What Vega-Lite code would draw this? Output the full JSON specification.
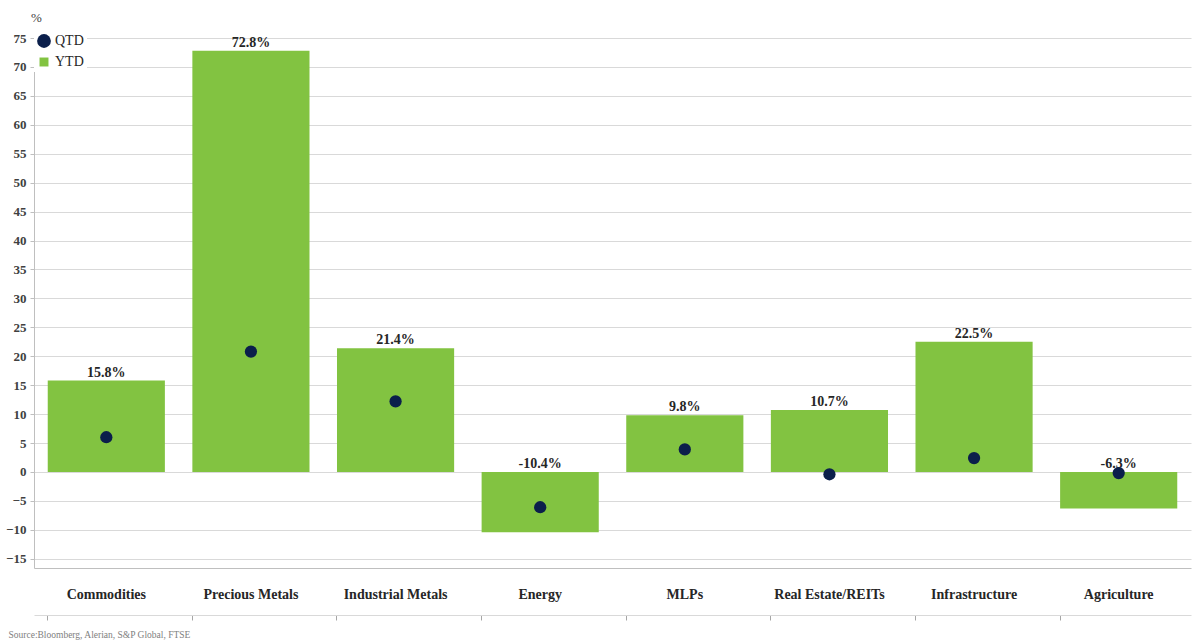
{
  "$schema": "https://vega.github.io/schema/vega-lite/v6.json",
  "width": 1157,
  "height": 530,
  "autosize": "none",
  "padding": {"left": 34, "top": 38, "right": 9, "bottom": 76},
  "background": "white",
  "config": {
    "view": {"stroke": null},
    "font": "Liberation Serif",
    "axisY": {
      "labelOverlap": false, "labelFlush": false,
      "titleAngle": 0, "titleX": 2, "titleY": -14, "titleAlign": "center",
      "titleBaseline": "bottom", "titleFontSize": 13, "titleFontWeight": "normal", "titleColor": "#404040",
      "labelFontSize": 13, "labelFontWeight": "bold", "labelColor": "#404040", "labelPadding": 4,
      "tickSize": 4, "tickColor": "#BFBFBF", "domainColor": "#BFBFBF",
      "grid": true, "gridColor": "#D9D9D9"
    }
  },
  "data": {
    "values": [
      {"category": "Commodities", "YTD": 15.8, "QTD": 6.0},
      {"category": "Precious Metals", "YTD": 72.8, "QTD": 20.8},
      {"category": "Industrial Metals", "YTD": 21.4, "QTD": 12.2},
      {"category": "Energy", "YTD": -10.4, "QTD": -6.1},
      {"category": "MLPs", "YTD": 9.8, "QTD": 3.9},
      {"category": "Real Estate/REITs", "YTD": 10.7, "QTD": -0.4},
      {"category": "Infrastructure", "YTD": 22.5, "QTD": 2.4},
      {"category": "Agriculture", "YTD": -6.3, "QTD": -0.2}
    ]
  },
  "transform": [{"fold": ["YTD", "QTD"], "as": ["series", "value"]}],
  "layer": [
    {
      "transform": [{"filter": "datum.series === 'YTD'"}],
      "mark": {"type": "bar", "color": "#82C341"},
      "encoding": {
        "x": {
          "field": "category", "type": "nominal", "sort": null,
          "scale": {"paddingInner": 0.19, "paddingOuter": 0.095},
          "axis": {
            "title": null, "domain": true, "domainColor": "#BFBFBF", "ticks": false,
            "labelAngle": 0, "labelFontSize": 14, "labelFontWeight": "bold",
            "labelColor": "#262626", "labelPadding": 19, "grid": false
          }
        },
        "y": {
          "field": "value", "type": "quantitative",
          "scale": {"domain": [-16.6, 75], "nice": false, "zero": false},
          "axis": {
            "values": [-15, -10, -5, 0, 5, 10, 15, 20, 25, 30, 35, 40, 45, 50, 55, 60, 65, 70, 75],
            "title": "%"
          }
        },
        "color": {
          "field": "series", "type": "nominal",
          "scale": {"domain": ["QTD", "YTD"], "range": ["#0B1F4B", "#82C341"]},
          "legend": {
            "title": null, "orient": "none", "legendX": 0, "legendY": -7,
            "padding": 3, "fillColor": "white", "symbolSize": 190, "rowPadding": 7,
            "labelFontSize": 14, "labelColor": "#262626", "labelOffset": 4,
            "symbolStrokeWidth": 0
          }
        }
      }
    },
    {
      "transform": [
        {"filter": "datum.series === 'YTD'"},
        {"calculate": "max(datum.value, 0)", "as": "pos"},
        {"calculate": "replace(format(datum.value, '.1f'), '\u2212', '-') + '%'", "as": "label"}
      ],
      "mark": {"type": "text", "fontSize": 14, "fontWeight": "bold", "color": "#262626", "baseline": "alphabetic", "dy": -4},
      "encoding": {
        "x": {"field": "category", "type": "nominal", "sort": null, "axis": null},
        "y": {
          "field": "pos", "type": "quantitative",
          "axis": {
            "values": [-15, -10, -5, 0, 5, 10, 15, 20, 25, 30, 35, 40, 45, 50, 55, 60, 65, 70, 75],
            "title": "%"
          }
        },
        "text": {"field": "label"}
      }
    },
    {
      "transform": [{"filter": "datum.series === 'QTD'"}],
      "mark": {"type": "point", "filled": true, "size": 150, "opacity": 1},
      "encoding": {
        "x": {
          "field": "category", "type": "nominal", "sort": null,
          "axis": {
            "orient": "bottom", "offset": 47, "labels": false, "grid": false,
            "ticks": true, "bandPosition": 0, "tickSize": 5, "tickColor": "#A6A6A6",
            "domainColor": "#D9D9D9",
            "title": "Source:Bloomberg, Alerian, S&P Global, FTSE",
            "titleFontSize": 9.5, "titleColor": "#808080", "titleFontWeight": "normal",
            "titleAnchor": "start", "titleAlign": "left", "titleX": -26, "titleY": 22,
            "titleBaseline": "alphabetic"
          }
        },
        "y": {
          "field": "value", "type": "quantitative",
          "axis": {
            "values": [-15, -10, -5, 0, 5, 10, 15, 20, 25, 30, 35, 40, 45, 50, 55, 60, 65, 70, 75],
            "title": "%"
          }
        },
        "color": {"field": "series", "type": "nominal"},
        "shape": {
          "field": "series", "type": "nominal",
          "scale": {"domain": ["QTD", "YTD"], "range": ["circle", "M-0.65,-0.65H0.65V0.65H-0.65Z"]}
        }
      }
    }
  ],
  "resolve": {"axis": {"x": "independent"}}
}
